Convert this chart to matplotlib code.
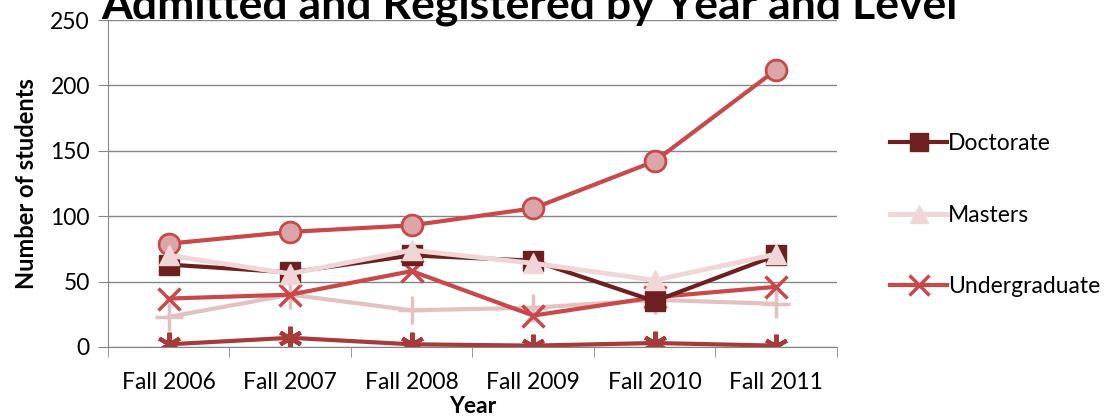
import matplotlib
matplotlib.use('Agg')
import matplotlib.pyplot as plt

plt.rcParams['font.family'] = ['Lato', 'DejaVu Sans']

years = ['Fall 2006', 'Fall 2007', 'Fall 2008', 'Fall 2009', 'Fall 2010', 'Fall 2011']
doctorate = [63, 57, 70, 66, 35, 70]
masters = [70, 56, 74, 64, 51, 71]
undergraduate = [37, 40, 58, 24, 38, 46]
undergrad_registered = [79, 88, 93, 106, 142, 212]
masters_registered = [23, 40, 28, 30, 36, 33]
doctorate_registered = [2, 7, 2, 1, 3, 1]

x = list(range(len(years)))

fig = plt.figure(figsize=(11.13, 4.18), dpi=100)
ax = fig.add_axes([0.097, 0.170, 0.655, 0.782])

# lines without legend first
ax.plot(x, doctorate_registered, color='#A83A3A', lw=3, marker=(6, 2, 0),
        ms=17, mew=3, zorder=2)
ax.plot(x, masters_registered, color='#E3C1C1', lw=3, marker='+',
        ms=20, mew=2.5, zorder=2)
ax.plot(x, undergrad_registered, color='#C9484A', lw=3, marker='o',
        ms=15, mfc='#DBA6A8', mec='#C9484A', mew=2, zorder=3)

ax.plot(x, undergraduate, color='#C9484A', lw=3, marker='x',
        ms=16, mew=2.5, label='Undergraduate', zorder=4)
ax.plot(x, doctorate, color='#6E1F1F', lw=3, marker='s',
        ms=14, label='Doctorate', zorder=5)
ax.plot(x, masters, color='#F0D6D6', lw=3.5, marker='^',
        ms=15, label='Masters', zorder=6)

ax.set_xlim(-0.5, 5.5)
ax.set_ylim(0, 250)
ax.set_yticks([0, 50, 100, 150, 200, 250])
ax.set_xticks(x)
ax.set_xticklabels(years)
ax.set_xticks([i - 0.5 for i in range(7)], minor=True)
ax.tick_params(axis='x', which='major', length=0, labelsize=16.5, pad=18)
ax.tick_params(axis='x', which='minor', length=7, color='#868686')
ax.tick_params(axis='y', length=7, color='#868686', labelsize=16.5, pad=6)
ax.grid(axis='y', color='#868686', lw=1)
ax.set_axisbelow(True)
for s in ['top', 'right']:
    ax.spines[s].set_visible(False)
ax.spines['left'].set_color('#868686')
ax.spines['bottom'].set_color('#868686')

ax.set_xlabel('Year', fontsize=16.5, fontweight='bold', labelpad=2)
ax.set_ylabel('Number of students', fontsize=17, fontweight='bold', labelpad=9)

h, l = ax.get_legend_handles_labels()
order = [1, 2, 0]
fig.legend([h[i] for i in order], [l[i] for i in order],
           loc='center left', bbox_to_anchor=(0.781, 0.485), frameon=False,
           fontsize=16.5, labelspacing=2.2, handlelength=2.5, handletextpad=0.05,
           markerscale=0.9)

fig.text(0.476, 0.938, 'Admitted and Registered by Year and Level',
         ha='center', va='bottom', fontsize=32, fontweight='bold')

fig.savefig('out.png', dpi=100)
